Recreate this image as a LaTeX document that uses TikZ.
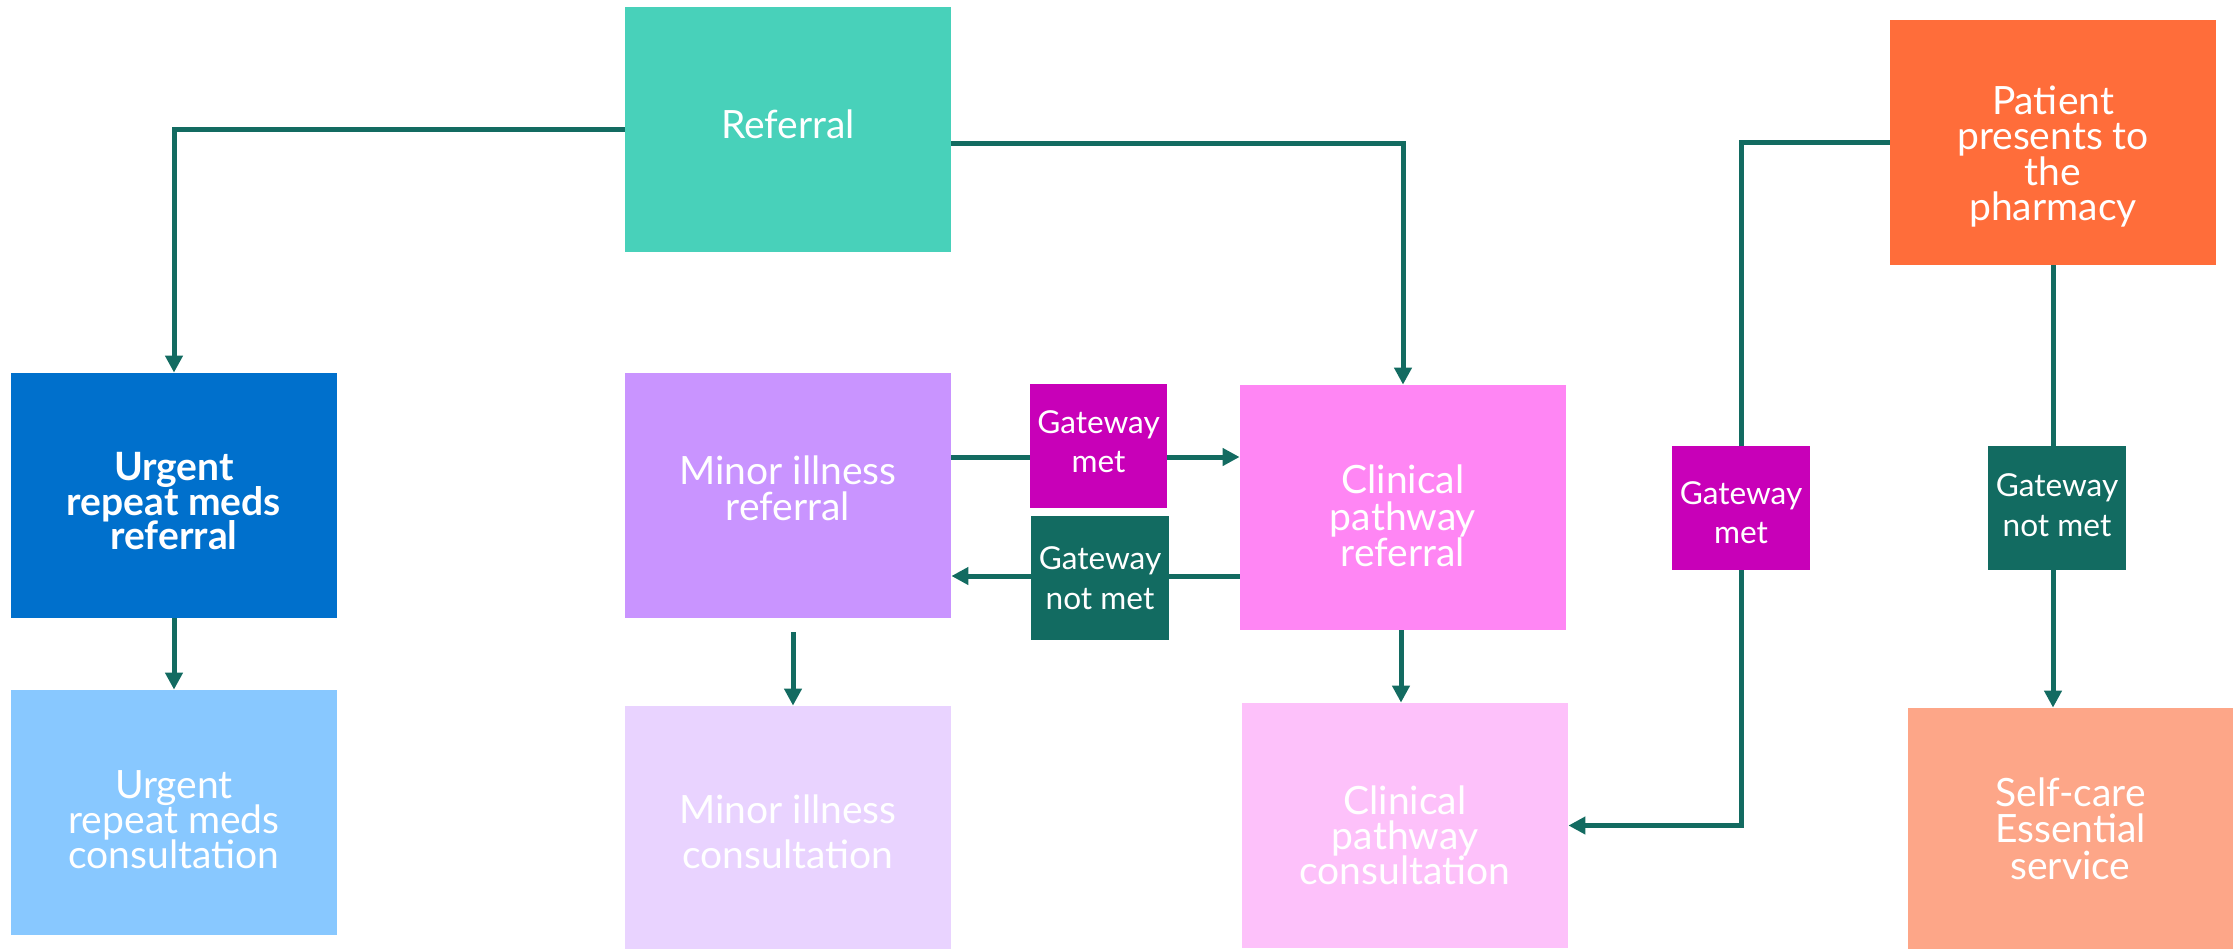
\documentclass[tikz,border=0pt]{standalone}
\usepackage{fontspec}
\setmainfont{Lato}
\usetikzlibrary{arrows.meta}
\definecolor{lc}{HTML}{136B61}
\definecolor{cRef}{HTML}{48D1BA}
\definecolor{cUrgR}{HTML}{0070CC}
\definecolor{cUrgC}{HTML}{88C8FF}
\definecolor{cMinR}{HTML}{C994FF}
\definecolor{cMinC}{HTML}{E9D3FF}
\definecolor{cCliR}{HTML}{FF86F4}
\definecolor{cCliC}{HTML}{FDC1FA}
\definecolor{cMet}{HTML}{C800B8}
\definecolor{cNot}{HTML}{126B61}
\definecolor{cPat}{HTML}{FF6D3A}
\definecolor{cSelf}{HTML}{FDA688}
\pgfdeclarelayer{bg}
\pgfsetlayers{bg,main}
\begin{document}
\begin{tikzpicture}[x=0.5pt,y=-0.5pt,
  box/.style={rectangle, inner sep=0pt, minimum width=163pt, minimum height=122.5pt},
  gate/.style={rectangle, inner sep=0pt, minimum width=69pt, minimum height=62pt},
  txt/.style={inner sep=0pt, align=center, text=white,
    font={\fontsize{19.5}{17.8}\selectfont\lineskiplimit=-50pt}},
  gtxt/.style={inner sep=0pt, align=center, text=white,
    font={\fontsize{15.8}{19.5}\selectfont\lineskiplimit=-50pt}},
  arr/.style={draw=lc, line width=2.5pt, -{Triangle[length=8.5pt,width=8.5pt]}}]
\useasboundingbox (0,0) rectangle (2233,949);

% boxes
\node[box, fill=cRef] (ref) at (788,129.5) {};
\node[box, fill=cUrgR] (urgref) at (174,495.5) {};
\node[box, fill=cUrgC] (urgcon) at (174,812.5) {};
\node[box, fill=cMinR] (minref) at (788,495.5) {};
\node[box, fill=cMinC, minimum height=121.5pt] (mincon) at (788,827.5) {};
\node[box, fill=cCliR] (clinref) at (1403,507.5) {};
\node[box, fill=cCliC] (clincon) at (1405,825.5) {};
\node[gate, fill=cMet, minimum width=68.5pt] (gmet1) at (1098.5,446) {};
\node[gate, fill=cNot] (gnot1) at (1100,578) {};
\node[box, fill=cPat] (patient) at (2053,142.5) {};
\node[gate, fill=cMet] (gmet2) at (1741,508) {};
\node[gate, fill=cNot] (gnot2) at (2057,508) {};
\node[box, fill=cSelf, minimum width=162.5pt, minimum height=120.5pt] (self) at (2070.5,828.5) {};

% texts
\node[txt] (ref-t) at ([yshift=2.8pt]ref.center) {Referral};
\node[txt, font={\fontsize{19.5}{17.4}\selectfont\bfseries\lineskiplimit=-50pt}] (urgref-t) at ([yshift=-2.8pt]urgref.center) {Urgent\\repeat meds\\referral};
\node[txt, font={\fontsize{19.5}{17.4}\selectfont\lineskiplimit=-50pt}] (urgcon-t) at ([yshift=-3.6pt]urgcon.center) {Urgent\\repeat meds\\consultation};
\node[txt] (minref-t) at ([yshift=3.6pt]minref.center) {Minor illness\\referral};
\node[txt, font={\fontsize{19.5}{22.6}\selectfont\lineskiplimit=-50pt}] (mincon-t) at ([yshift=-2.1pt]mincon.center) {Minor illness\\consultation};
\node[txt, font={\fontsize{19.5}{18.2}\selectfont\lineskiplimit=-50pt}] (clinref-t) at ([yshift=-4.3pt]clinref.center) {Clinical\\pathway\\referral};
\node[txt, font={\fontsize{19.5}{17.4}\selectfont\lineskiplimit=-50pt}] (clincon-t) at ([yshift=-5pt]clincon.center) {Clinical\\pathway\\consultation};
\node[txt] (patient-t) at ([yshift=-7pt]patient.center) {Patient\\presents to\\the\\pharmacy};
\node[txt, font={\fontsize{19.5}{18.2}\selectfont\lineskiplimit=-50pt}] (self-t) at (self.center) {Self-care\\Essential\\service};
\node[gtxt] (gmet1-t) at ([yshift=2.1pt]gmet1.center) {Gateway\\met};
\node[gtxt, font={\fontsize{15.8}{20}\selectfont\lineskiplimit=-50pt}] (gnot1-t) at (gnot1.center) {Gateway\\not met};
\node[gtxt] (gmet2-t) at ([yshift=-2.1pt]gmet2.center) {Gateway\\met};
\node[gtxt, font={\fontsize{15.8}{20}\selectfont\lineskiplimit=-50pt}] (gnot2-t) at ([yshift=1.4pt]gnot2.center) {Gateway\\not met};

% connectors
\begin{pgfonlayer}{bg}
\draw[arr] (ref.west) -| (urgref.north);
\draw[arr] ([yshift=-6.75pt]ref.east) -| (clinref.north);
\draw[arr] (urgref.south) -- (urgcon.north);
\draw[arr] ([xshift=2.5pt,yshift=-7pt]minref.south) -- ([xshift=2.5pt]mincon.north);
\draw[arr] ([xshift=-1pt]clinref.south) -- ([xshift=-2pt]clincon.north);
\draw[arr] ([yshift=19.25pt]minref.east) coordinate (m1) -- (m1 -| clinref.west);
\draw[arr] ([yshift=-34.25pt]clinref.west) coordinate (m2) -- (m2 -| minref.east);
\draw[arr] (patient.west) -| (gmet2.north) -- (gmet2.north |- clincon.east) -- (clincon.east);
\draw[arr] (patient.south) -- (patient.south |- self.north);
\end{pgfonlayer}
\end{tikzpicture}
\end{document}
